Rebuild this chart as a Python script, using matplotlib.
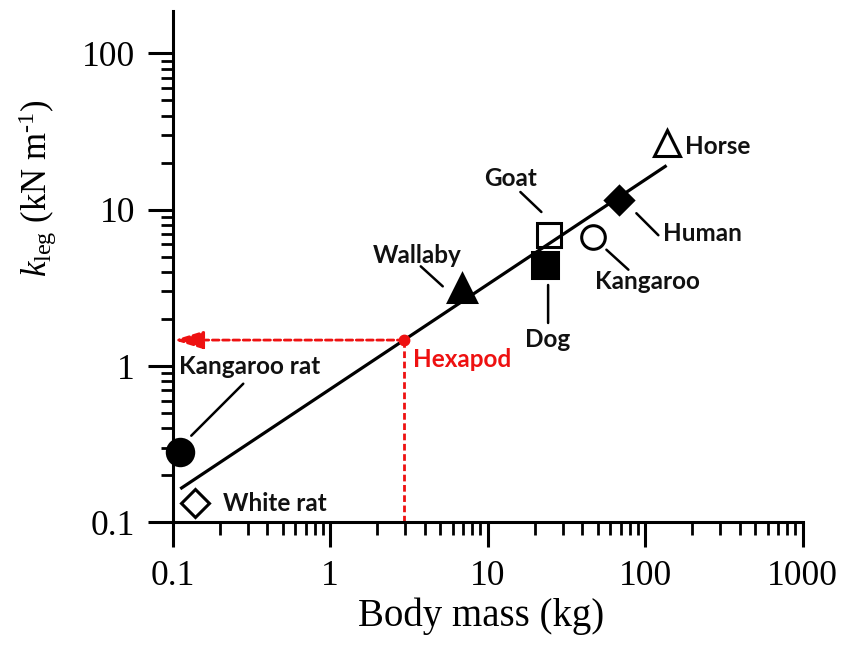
import matplotlib
matplotlib.use('Agg')
import numpy as np
import matplotlib.pyplot as plt
from matplotlib.ticker import LogLocator, NullFormatter, FixedLocator, FixedFormatter
from matplotlib.transforms import offset_copy

plt.rcParams['font.family'] = 'Liberation Serif'
plt.rcParams['mathtext.fontset'] = 'custom'
plt.rcParams['mathtext.rm'] = 'Liberation Serif'
plt.rcParams['mathtext.it'] = 'Liberation Serif:italic'

# leg stiffness vs body mass for running animals
animals = ['Kangaroo rat', 'White rat', 'Wallaby', 'Dog', 'Goat', 'Kangaroo', 'Human', 'Horse']
mass = [0.112, 0.139, 6.86, 23.2, 24.7, 47.0, 68.7, 137.0]       # kg
k_leg = [0.283, 0.132, 3.14, 4.43, 6.89, 6.72, 11.5, 26.6]       # kN/m

# allometric fit  k = a * M^b
fit_a, fit_b = 0.71, 0.67
hexapod_mass = 2.95

x_ticks = [0.1, 1, 10, 100, 1000]
x_ticklabels = ['0.1', '1', '10', '100', '1000']
y_ticks = [0.1, 1, 10, 100]
y_ticklabels = ['0.1', '1', '10', '100']

# marker style per animal
marker = {'Kangaroo rat': ('o', True, 19), 'White rat': ('D', False, 14),
          'Wallaby': ('^', True, 20), 'Dog': ('s', True, 19),
          'Goat': ('s', False, 17), 'Kangaroo': ('o', False, 17),
          'Human': ('D', True, 14), 'Horse': ('^', False, 19)}

# label placement in pixels from the marker: text offset, ha, leader segment
labels = {
    'Kangaroo rat': ((-1, 85), 'left', ((11, 16), (63, 68))),
    'White rat': ((28, 0), 'left', None),
    'Wallaby': ((-45, 33), 'center', ((-41, 22), (-19, 2))),
    'Dog': ((3, -75), 'center', ((3, -20), (3, -58))),
    'Goat': ((-39, 57), 'center', ((-29, 43), (-8, 23))),
    'Kangaroo': ((2, -45), 'left', ((13, -13), (35, -33))),
    'Human': ((44, -33), 'left', ((17, -13), (39, -35))),
    'Horse': ((18, -3), 'left', None),
}
label_size = 17.5

fig = plt.figure(figsize=(8.44, 6.45), dpi=100)
ax = fig.add_axes([0.2044, 0.1902, 0.7465, 0.7927])
ax.set_xscale('log')
ax.set_yscale('log')
ax.set_xlim(0.1, 1000)
ax.set_ylim(0.1, 186.7)

# fit line across the measured mass range
m_fit = np.array([min(mass), max(mass)])
ax.plot(m_fit, fit_a * m_fit ** fit_b, color='black', lw=2.3, zorder=2,
        solid_capstyle='butt')

for name, m, k in zip(animals, mass, k_leg):
    mk, full, ms = marker[name]
    ax.plot(m, k, marker=mk, ms=ms, mec='black', mew=2.2,
            mfc='black' if full else 'none', ls='none', zorder=3, clip_on=False)

    (tx, ty), ha, leader = labels[name]
    ax.annotate(name, xy=(m, k), xytext=(tx, ty), textcoords='offset pixels',
                ha=ha, va='center', fontsize=label_size, fontweight='bold',
                family='Lato', color='#111111')
    if leader:
        (sx, sy), (ex, ey) = leader
        start = offset_copy(ax.transData, fig=fig, x=sx, y=sy, units='dots')
        ax.annotate('', xy=(m, k), xycoords=start, xytext=(ex - sx, ey - sy),
                    textcoords='offset pixels',
                    arrowprops=dict(arrowstyle='-', lw=1.8, color='black',
                                    shrinkA=0, shrinkB=0))

# hexapod
k_hex = fit_a * hexapod_mass ** fit_b
red = '#ee1111'
ax.plot([hexapod_mass, hexapod_mass], [0.1, k_hex], color=red, lw=2.0,
        ls=(0, (2.4, 1.3)), zorder=2)
ax.annotate('', xy=(0.1, k_hex), xytext=(hexapod_mass, k_hex),
            arrowprops=dict(arrowstyle='-|>,head_length=1.8,head_width=0.55',
                            mutation_scale=10, color=red, lw=2.0,
                            ls=(0, (2.4, 1.3)), shrinkA=0, shrinkB=1))
ax.plot(hexapod_mass, k_hex, 'o', color=red, ms=7.5, zorder=4)
ax.annotate('Hexapod', xy=(hexapod_mass, k_hex), xytext=(9, -19),
            textcoords='offset pixels', ha='left', va='center',
            fontsize=label_size, fontweight='bold', family='Lato', color=red)

# axes styling
for side in ('top', 'right'):
    ax.spines[side].set_visible(False)
for side in ('left', 'bottom'):
    ax.spines[side].set_linewidth(2.2)

ax.xaxis.set_major_locator(FixedLocator(x_ticks))
ax.xaxis.set_major_formatter(FixedFormatter(x_ticklabels))
ax.yaxis.set_major_locator(FixedLocator(y_ticks))
ax.yaxis.set_major_formatter(FixedFormatter(y_ticklabels))
ax.xaxis.set_minor_locator(LogLocator(base=10, subs=np.arange(2, 10)))
ax.yaxis.set_minor_locator(LogLocator(base=10, subs=np.arange(2, 10)))
ax.xaxis.set_minor_formatter(NullFormatter())
ax.yaxis.set_minor_formatter(NullFormatter())
ax.tick_params(which='major', direction='out', length=18, width=2.2,
               labelsize=25.5, pad=9)
ax.tick_params(which='minor', direction='out', length=9, width=2.0)

ax.set_xlabel('Body mass (kg)', fontsize=28)
ax.xaxis.set_label_coords(0.49, -0.148)
ax.set_ylabel(r'$k_{\mathrm{leg}}$ (kN m$^{\text{-1}}$)', fontsize=25)
ax.yaxis.set_label_coords(-0.18, 0.654)

fig.savefig('out.png', dpi=100)
